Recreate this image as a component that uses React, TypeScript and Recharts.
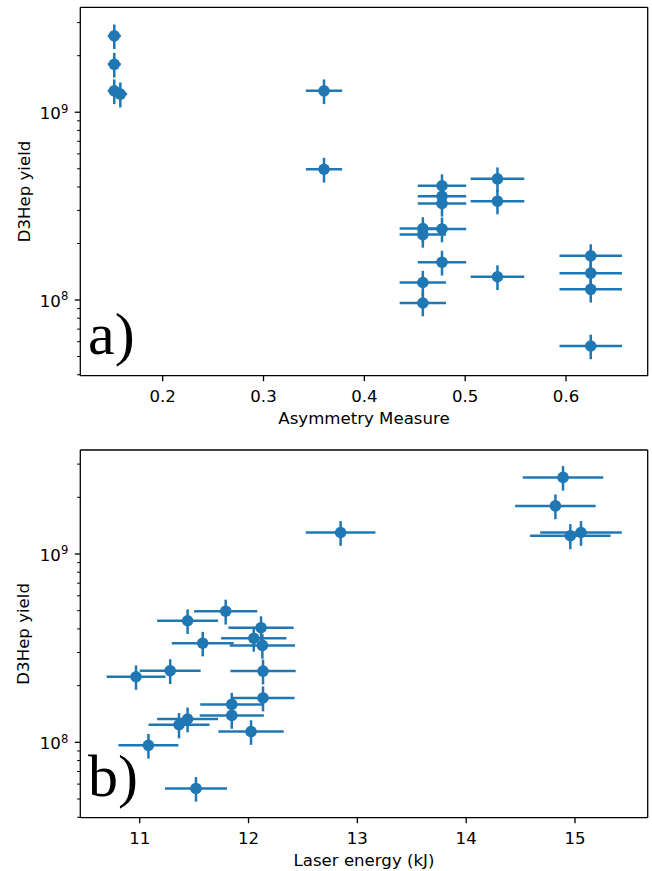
import { ScatterChart, Scatter, XAxis, YAxis, ErrorBar, ReferenceLine } from 'recharts';

// one entry per shot, same order in every array
const d3HepYield = [
  2.55e9, 1.8e9, 1.3e9, 1.25e9, 1.3e9, 4.97e8, 4.06e8, 3.57e8, 3.27e8, 2.39e8, 2.4e8,
  2.23e8, 1.59e8, 1.24e8, 9.64e7, 4.42e8, 3.36e8, 1.33e8, 1.72e8, 1.39e8, 1.14e8, 5.69e7,
];
const d3HepYieldErr = [
  3.8e8, 2.7e8, 1.95e8, 1.9e8, 1.95e8, 7.5e7, 6.1e7, 5.4e7, 4.9e7, 3.6e7, 3.6e7,
  3.3e7, 2.4e7, 1.9e7, 1.45e7, 6.6e7, 5.0e7, 2.0e7, 2.6e7, 2.1e7, 1.7e7, 8.5e6,
];
const asymmetry = [
  0.152, 0.152, 0.152, 0.158, 0.36, 0.36, 0.477, 0.477, 0.477, 0.477, 0.458,
  0.458, 0.477, 0.458, 0.458, 0.532, 0.532, 0.532, 0.6245, 0.6245, 0.6245, 0.6245,
];
const asymmetryErr = [
  0.0065, 0.0065, 0.0065, 0.0068, 0.018, 0.018, 0.024, 0.024, 0.024, 0.024, 0.023,
  0.023, 0.024, 0.023, 0.023, 0.0266, 0.0266, 0.0266, 0.031, 0.031, 0.031, 0.031,
];
const laserEnergy = [
  14.89, 14.82, 15.055, 14.957, 12.846, 11.79, 12.115, 12.048, 12.127, 12.133, 11.28,
  10.966, 11.846, 11.361, 11.08, 11.44, 11.579, 11.44, 12.133, 11.846, 12.023, 11.517,
];
const laserEnergyErr = [
  0.37, 0.37, 0.375, 0.37, 0.32, 0.29, 0.3, 0.3, 0.3, 0.3, 0.28,
  0.27, 0.29, 0.28, 0.275, 0.28, 0.285, 0.28, 0.29, 0.295, 0.3, 0.285,
];

const asymTicks = [0.2, 0.3, 0.4, 0.5, 0.6];
const energyTicks = [11, 12, 13, 14, 15];
const yTicks = [
  4e7, 5e7, 6e7, 7e7, 8e7, 9e7, 1e8, 2e8, 3e8, 4e8, 5e8, 6e8, 7e8, 8e8, 9e8, 1e9, 2e9, 3e9,
];

const BLUE = '#1f77b4';
const FONT = 'DejaVu Sans';
const SERIF = '"Liberation Serif", "Times New Roman", "DejaVu Serif", serif';
const FS = 16.6;

const YTick = (props: any) => {
  const { x, y, payload } = props;
  const lg = Math.log10(payload.value);
  const major = Math.abs(lg - Math.round(lg)) < 1e-6;
  return (
    <g>
      <line x1={x - (major ? 5.5 : 3.2)} x2={x} y1={y} y2={y} stroke="#000" strokeWidth={major ? 1.3 : 1} />
      {major && (
        <text x={x - 12} y={y + 7} textAnchor="end" fontSize={FS} fontFamily={FONT} fill="#000">
          <tspan>10</tspan>
          <tspan dy={-6.6} fontSize={11.6}>{Math.round(lg)}</tspan>
        </text>
      )}
    </g>
  );
};

const XTick = (props: any) => {
  const { x, y, payload, fmt } = props;
  return (
    <g>
      <line x1={x} x2={x} y1={y} y2={y + 5.5} stroke="#000" strokeWidth={1.3} />
      <text x={x} y={y + 26} textAnchor="middle" fontSize={FS} fontFamily={FONT} fill="#000">
        {fmt(payload.value)}
      </text>
    </g>
  );
};

const Dot = (props: any) => <circle cx={props.cx} cy={props.cy} r={5.8} fill={BLUE} />;

interface PanelProps {
  top: number;
  height: number;
  marginTop: number;
  xAxisHeight: number;
  xs: number[];
  xErrs: number[];
  xDomain: [number, number];
  yDomain: [number, number];
  xTicks: number[];
  fmt: (v: number) => string;
  xLabel: string;
  tag: string;
}

function Panel(p: PanelProps) {
  const data = p.xs.map((x, i) => ({ x, y: d3HepYield[i], xErr: p.xErrs[i], yErr: d3HepYieldErr[i] }));
  const left = 80.3;
  const right = 4.3;
  const plotW = 652 - left - right;
  const plotH = p.height - p.marginTop - p.xAxisHeight;
  const bottom = p.marginTop + plotH;
  const axisStyle = { stroke: '#000', strokeWidth: 1.3 };
  return (
    <div style={{ position: 'absolute', left: 0, top: p.top }}>
      <ScatterChart width={652} height={p.height} margin={{ top: p.marginTop, right, bottom: 0, left: 0 }}>
        <XAxis
          type="number"
          dataKey="x"
          domain={p.xDomain}
          allowDataOverflow
          ticks={p.xTicks}
          interval={0}
          tickSize={0}
          tickMargin={0}
          tickLine={false}
          tick={(tp: any) => <XTick {...tp} fmt={p.fmt} />}
          axisLine={axisStyle}
          height={p.xAxisHeight}
        />
        <YAxis
          type="number"
          dataKey="y"
          scale="log"
          domain={p.yDomain}
          allowDataOverflow
          ticks={yTicks}
          interval={0}
          tickSize={0}
          tickMargin={0}
          tickLine={false}
          tick={(tp: any) => <YTick {...tp} />}
          axisLine={axisStyle}
          width={left}
        />
        {/* top and right spines */}
        <ReferenceLine y={p.yDomain[1]} stroke="#000" strokeWidth={1.3} ifOverflow="extendDomain" />
        <ReferenceLine x={p.xDomain[1]} stroke="#000" strokeWidth={1.3} ifOverflow="extendDomain" />
        <Scatter data={data} shape={Dot} isAnimationActive={false}>
          <ErrorBar dataKey="xErr" direction="x" width={0} stroke={BLUE} strokeWidth={2.5} isAnimationActive={false} />
          <ErrorBar dataKey="yErr" direction="y" width={0} stroke={BLUE} strokeWidth={2.5} isAnimationActive={false} />
        </Scatter>
        <text
          x={29.5}
          y={p.marginTop + plotH / 2}
          transform={`rotate(-90, 29.5, ${p.marginTop + plotH / 2})`}
          textAnchor="middle"
          fontSize={FS}
          fontFamily={FONT}
          fill="#000"
        >
          D3Hep yield
        </text>
        <text x={left + plotW / 2} y={bottom + 48} textAnchor="middle" fontSize={FS} fontFamily={FONT} fill="#000">
          {p.xLabel}
        </text>
        <text x={88} y={bottom - 21.5} fontSize={60} style={{ fontFamily: SERIF }} fill="#000">
          {p.tag}
        </text>
      </ScatterChart>
    </div>
  );
}

export default function App() {
  return (
    <div style={{ position: 'absolute', left: 0, top: 0, width: 652, height: 871, background: '#fff' }}>
      <Panel
        top={0}
        height={430}
        marginTop={7.3}
        xAxisHeight={54.3}
        xs={asymmetry}
        xErrs={asymmetryErr}
        xDomain={[0.1183, 0.681]}
        yDomain={[3.954e7, 3.62e9]}
        xTicks={asymTicks}
        fmt={(v) => v.toFixed(1)}
        xLabel="Asymmetry Measure"
        tag="a)"
      />
      <Panel
        top={430}
        height={441}
        marginTop={20}
        xAxisHeight={53.3}
        xs={laserEnergy}
        xErrs={laserEnergyErr}
        xDomain={[10.454, 15.668]}
        yDomain={[3.98e7, 3.565e9]}
        xTicks={energyTicks}
        fmt={(v) => String(v)}
        xLabel="Laser energy (kJ)"
        tag="b)"
      />
    </div>
  );
}
